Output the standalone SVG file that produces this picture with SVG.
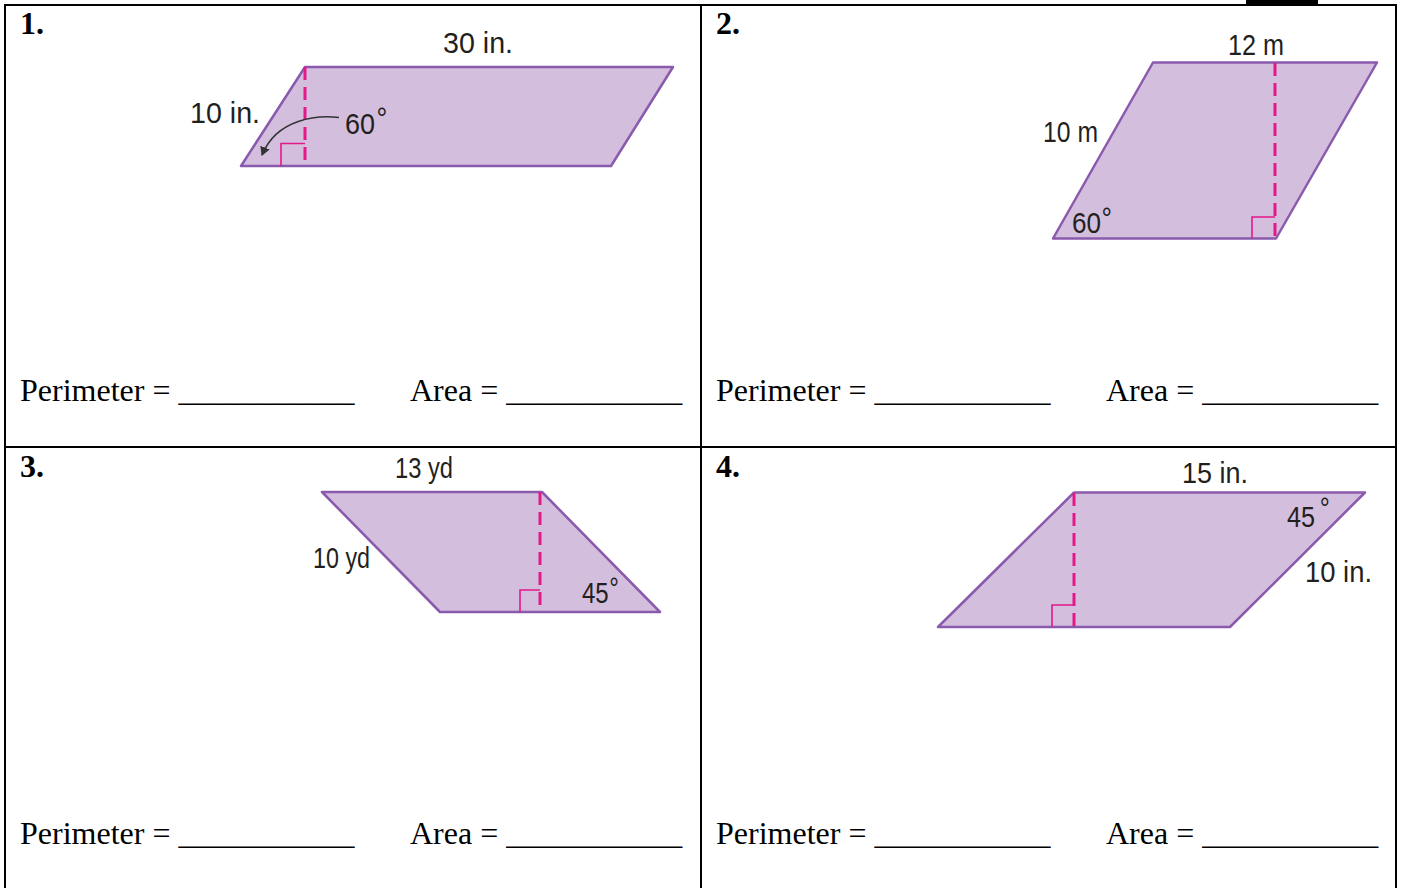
<svg xmlns="http://www.w3.org/2000/svg" width="1401" height="888" viewBox="0 0 1401 888">
<style>
.grid{stroke:#000;stroke-width:2;fill:none}
.shape{fill:#D3BEDE;stroke:#8A5AAD;stroke-width:2.5;stroke-linejoin:round}
.h{stroke:#E5188A;stroke-width:3;stroke-dasharray:13 7;fill:none}
.ra{stroke:#E5188A;stroke-width:1.6;fill:none}
.lbl{font-family:"Liberation Sans",Arial,sans-serif;font-size:30px;fill:#231F20}
.num{font-family:"Liberation Serif","Times New Roman",serif;font-size:32px;font-weight:bold;fill:#000}
.ans{font-family:"Liberation Serif","Times New Roman",serif;font-size:32px;fill:#000}
</style>
<defs>
<marker id="arr" markerWidth="10" markerHeight="10" refX="8" refY="5" orient="auto" markerUnits="userSpaceOnUse">
<path d="M0,0 L9,5 L0,10 Z" fill="#333"/>
</marker>
</defs>
<rect width="1401" height="888" fill="#fff"/>
<rect x="1246" y="0" width="72" height="4" fill="#000"/>
<g id="grid">
<line class="grid" x1="4" y1="5" x2="1397" y2="5"/>
<line class="grid" x1="5" y1="4" x2="5" y2="888"/>
<line class="grid" x1="1396" y1="4" x2="1396" y2="888"/>
<line class="grid" x1="701" y1="5" x2="701" y2="888"/>
<line class="grid" x1="5" y1="447" x2="1396" y2="447"/>
</g>
<g id="cell1">
<text class="num" x="20" y="34">1.</text>
<polygon class="shape" points="305,67 673,67 611,166 241,166"/>
<line class="h" x1="305" y1="67" x2="305" y2="166"/>
<polyline class="ra" points="281,166 281,143.5 305,143.5"/>
<text class="lbl" x="443" y="53" textLength="70" lengthAdjust="spacingAndGlyphs">30 in.</text>
<text class="lbl" x="190" y="122.5" textLength="70" lengthAdjust="spacingAndGlyphs">10 in.</text>
<text class="lbl" transform="translate(345,134) scale(0.9,1)">60<tspan x="35" y="-6">°</tspan></text>
<text class="ans" x="20" y="401">Perimeter = ___________</text>
<text class="ans" x="410" y="401">Area = ___________</text>
</g>
<g id="cell2">
<text class="num" x="716" y="34">2.</text>
<polygon class="shape" points="1153,62.5 1377,62.5 1276,238.5 1053,238.5"/>
<line class="h" x1="1275" y1="63" x2="1275" y2="238"/>
<polyline class="ra" points="1252,238 1252,217 1275,217"/>
<text class="lbl" x="1228" y="55" textLength="56" lengthAdjust="spacingAndGlyphs">12 m</text>
<text class="lbl" x="1043" y="142" textLength="55" lengthAdjust="spacingAndGlyphs">10 m</text>
<text class="lbl" transform="translate(1072,233) scale(0.87,1)">60<tspan x="34" y="-5">°</tspan></text>
<text class="ans" x="716" y="401">Perimeter = ___________</text>
<text class="ans" x="1106" y="401">Area = ___________</text>
</g>
<g id="cell3">
<text class="num" x="20" y="477">3.</text>
<polygon class="shape" points="322,492 542,492 660,612 440,612"/>
<line class="h" x1="540" y1="492" x2="540" y2="612"/>
<polyline class="ra" points="520,612 520,590 540,590"/>
<text class="lbl" x="395" y="478" textLength="58" lengthAdjust="spacingAndGlyphs">13 yd</text>
<text class="lbl" x="313" y="568" textLength="57" lengthAdjust="spacingAndGlyphs">10 yd</text>
<text class="lbl" transform="translate(582,603) scale(0.8,1)">45<tspan x="34" y="-5">°</tspan></text>
<text class="ans" x="20" y="844">Perimeter = ___________</text>
<text class="ans" x="410" y="844">Area = ___________</text>
</g>
<g id="cell4">
<text class="num" x="716" y="477">4.</text>
<polygon class="shape" points="1074,492.5 1365,492.5 1230,627 938,627"/>
<line class="h" x1="1074" y1="493" x2="1074" y2="627"/>
<polyline class="ra" points="1052,627 1052,605 1074,605"/>
<text class="lbl" x="1182" y="483" textLength="66" lengthAdjust="spacingAndGlyphs">15 in.</text>
<text class="lbl" transform="translate(1287,527) scale(0.84,1)">45<tspan x="39" y="-9">°</tspan></text>
<text class="lbl" x="1305" y="582" textLength="67" lengthAdjust="spacingAndGlyphs">10 in.</text>
<text class="ans" x="716" y="844">Perimeter = ___________</text>
<text class="ans" x="1106" y="844">Area = ___________</text>
</g>
<g id="connectors">
<path d="M339,117.5 C318,115 277,118 262,155" fill="none" stroke="#333" stroke-width="1.6" marker-end="url(#arr)"/>
</g>
</svg>
